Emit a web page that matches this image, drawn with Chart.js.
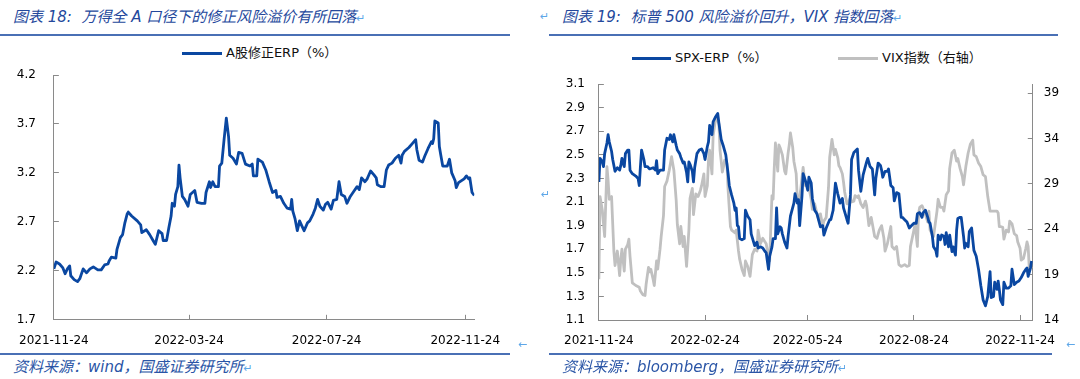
<!DOCTYPE html>
<html lang="zh-CN">
<head>
<meta charset="utf-8">
<script src="https://cdn.jsdelivr.net/npm/chart.js@4.4.0/dist/chart.umd.min.js"></script>
<style>
body{margin:0;width:1080px;height:379px;background:#fff;position:relative;overflow:hidden;font-family:"DejaVu Sans","Noto Sans CJK SC",sans-serif;}
.title{position:absolute;top:7px;font-size:15px;line-height:20px;font-style:italic;color:#24489c;white-space:pre;}
.rule{position:absolute;height:2px;background:#4a70b5;}
.source{position:absolute;top:357px;font-size:15px;line-height:20px;font-style:italic;color:#2a55a6;white-space:pre;}
.mark{position:absolute;font-size:11px;line-height:12px;color:#5ea7e8;}
.legend{position:absolute;display:flex;align-items:center;font-size:13px;line-height:16px;color:#111;white-space:pre;}
.legend i{display:inline-block;width:40px;height:3px;margin-right:4px;}
canvas{position:absolute;}
</style>
</head>
<body>

<div class="title" style="left:13px">图表 18:  万得全 A 口径下的修正风险溢价有所回落<span style="color:#5ea7e8;font-size:11px">↵</span></div>
<div class="title" style="left:562px">图表 19:  标普 500 风险溢价回升，VIX 指数回落<span style="color:#5ea7e8;font-size:11px">↵</span></div>
<div class="mark" style="left:540px;top:11px">↵</div>
<div class="rule" style="left:0;top:34px;width:510px"></div>
<div class="rule" style="left:549px;top:34px;width:509px"></div>

<div class="legend" style="left:182px;top:45px"><i style="background:#0a47a1"></i>A股修正ERP（%）</div>
<div class="legend" style="left:632px;top:50px"><i style="background:#0a47a1;width:39px"></i>SPX-ERP（%）</div>
<div class="legend" style="left:838px;top:50px"><i style="background:#c0c0c0"></i>VIX指数（右轴）</div>

<canvas id="erpChart" width="520" height="310" style="left:0;top:40px"></canvas>
<canvas id="spxChart" width="530" height="310" style="left:545px;top:40px"></canvas>

<div class="mark" style="left:541px;top:189px">↵</div>
<div class="mark" style="left:518px;top:339px">←</div>
<div class="mark" style="left:1066px;top:339px">←</div>
<div class="rule" style="left:0;top:353px;width:510px"></div>
<div class="rule" style="left:549px;top:353px;width:503px"></div>

<div class="source" style="left:13px">资料来源：wind，国盛证券研究所<span style="color:#5ea7e8;font-size:11px">↵</span></div>
<div class="source" style="left:562px">资料来源：bloomberg，国盛证券研究所<span style="color:#5ea7e8;font-size:11px">↵</span></div>

<script>
const startDate = "2021-11-24";

// 图表18：A股修正ERP，横轴为距 2021-11-24 的天数
const erpDays = [0,2,5,8,10,12,14,15,18,21,23,26,29,32,35,39,42,45,48,49,51,55,56,59,61,63,65,66,69,74,77,78,82,85,88,90,93,96,97,100,102,104,105,107,108,110,111,112,114,116,119,121,125,127,131,134,135,138,139,141,143,146,147,149,151,153,155,156,159,162,164,167,170,174,176,177,180,181,185,188,191,194,197,198,201,204,207,210,211,212,214,216,218,220,222,225,227,230,232,234,236,239,241,243,246,248,251,253,255,258,260,263,266,269,271,273,276,278,281,284,286,287,290,293,295,297,300,303,306,308,309,311,315,318,321,322,324,327,329,332,335,336,337,338,341,342,343,345,349,351,353,356,357,359,364,366,368,369,371,373];
const erpValues = [2.22,2.29,2.27,2.23,2.17,2.22,2.25,2.15,2.11,2.09,2.12,2.22,2.18,2.22,2.24,2.21,2.21,2.26,2.27,2.30,2.34,2.33,2.42,2.54,2.57,2.69,2.78,2.80,2.76,2.71,2.67,2.59,2.62,2.57,2.51,2.47,2.61,2.58,2.51,2.51,2.64,2.76,2.89,2.86,2.98,3.06,3.28,3.15,2.96,2.93,2.86,2.98,3.02,2.90,2.89,2.89,3.00,3.11,3.05,3.11,3.06,3.06,3.27,3.30,3.54,3.76,3.57,3.38,3.35,3.29,3.41,3.40,3.29,3.27,3.29,3.17,3.17,3.34,3.31,3.23,3.11,3.00,3.02,2.95,2.96,2.89,2.84,2.83,2.93,2.81,2.73,2.61,2.71,2.66,2.61,2.69,2.71,2.78,2.84,2.93,2.86,2.82,2.88,2.90,2.83,2.92,2.93,3.11,2.98,2.96,2.89,2.96,3.01,3.06,3.03,3.15,3.11,3.14,3.22,3.18,3.15,3.08,3.06,3.06,3.23,3.28,3.30,3.35,3.38,3.30,3.38,3.42,3.46,3.50,3.54,3.44,3.33,3.31,3.37,3.45,3.52,3.50,3.55,3.73,3.71,3.47,3.40,3.27,3.27,3.34,3.20,3.12,3.05,3.10,3.14,3.17,3.14,3.15,3.00,2.97];
const erpDateTicks = ["2021-11-24","2022-03-24","2022-07-24","2022-11-24"];
const erpYTicks = [1.7,2.2,2.7,3.2,3.7,4.2];

// 图表19：SPX-ERP 与 VIX
const spxDays = [0,1,3,4,5,7,8,9,11,12,14,16,18,19,20,22,23,25,26,27,29,32,34,35,36,37,39,40,42,44,47,49,50,51,53,56,57,59,61,62,64,65,67,68,70,71,73,74,76,77,78,79,81,82,83,85,87,89,91,92,94,95,96,98,99,101,103,104,106,108,110,112,113,115,117,118,119,120,121,122,124,126,127,129,131,132,135,137,138,140,142,144,145,147,148,150,151,153,154,155,157,158,159,161,163,164,166,169,170,172,173,174,176,177,179,181,182,184,185,187,189,192,194,195,197,200,201,203,205,207,209,211,212,215,216,218,219,221,224,225,227,229,232,233,235,237,239,240,242,244,245,246,248,250,251,253,255,256,258,260,262,263,265,267,269,271,273,275,276,278,280,281,283,285,286,287,289,290,292,293,294,296,297,299,300,301,303,304,306,307,309,310,311,313,314,316,317,318,320,321,323,324,325,327,329,331,333,335,337,339,340,342,343,345,346,347,348,350,351,353,355,357,358,360,362,364,366,368,370,371,372,374,375];
const spxErp = [2.27,2.47,2.44,2.40,2.51,2.60,2.67,2.61,2.53,2.46,2.36,2.39,2.37,2.41,2.47,2.40,2.51,2.54,2.54,2.37,2.34,2.32,2.30,2.24,2.40,2.54,2.46,2.40,2.40,2.38,2.39,2.37,2.45,2.34,2.37,2.37,2.54,2.64,2.63,2.67,2.61,2.67,2.58,2.54,2.51,2.48,2.43,2.44,2.35,2.27,2.44,2.42,2.36,2.27,2.39,2.51,2.54,2.55,2.51,2.46,2.57,2.61,2.75,2.67,2.78,2.82,2.85,2.77,2.63,2.57,2.50,2.34,2.24,2.16,2.09,2.03,2.05,1.90,1.89,1.79,1.78,1.79,2.03,1.98,1.95,1.83,1.73,1.76,1.71,1.72,1.71,1.68,1.67,1.53,1.64,1.72,1.79,1.79,2.05,1.83,1.89,1.88,1.83,1.76,1.71,1.81,1.98,2.09,2.17,2.09,2.12,1.90,2.15,2.34,2.28,2.20,2.31,2.26,2.13,2.03,2.00,1.89,1.90,1.82,1.88,1.95,1.95,2.03,2.26,2.17,2.09,2.13,2.05,1.95,1.92,2.16,2.46,2.52,2.55,2.37,2.19,2.33,2.44,2.47,2.40,2.38,2.16,2.30,2.43,2.41,2.37,2.31,2.36,2.36,2.38,2.24,2.22,2.11,2.18,2.17,1.97,1.97,1.95,1.93,1.88,1.90,1.92,1.92,2.00,2.01,1.97,2.01,2.03,1.97,1.93,1.92,1.81,1.72,1.69,1.64,1.82,1.78,1.82,1.81,1.74,1.84,1.72,1.82,1.68,1.72,1.65,1.86,1.96,1.97,1.97,1.81,1.71,1.75,1.72,1.85,1.88,1.78,1.69,1.64,1.53,1.39,1.27,1.22,1.30,1.51,1.29,1.30,1.42,1.36,1.43,1.36,1.27,1.23,1.42,1.37,1.37,1.39,1.53,1.40,1.42,1.43,1.46,1.50,1.53,1.54,1.47,1.54,1.60];
const vixDays = [0,1,3,5,7,8,9,11,13,14,16,18,19,20,22,23,25,26,27,29,32,35,36,38,40,41,43,44,45,47,48,50,51,53,54,56,57,59,61,63,65,67,68,70,71,73,74,76,78,79,81,82,84,86,88,89,91,92,94,95,96,98,99,101,102,104,105,107,108,109,111,112,114,115,117,118,119,121,122,124,126,127,129,131,133,135,137,138,140,142,144,145,147,148,149,150,151,152,153,155,156,157,159,161,162,164,165,166,168,169,171,172,174,175,177,178,179,181,182,184,185,187,189,191,192,194,195,197,199,200,202,204,205,207,208,209,211,212,213,215,216,218,219,221,222,224,225,227,229,231,232,234,236,237,239,241,243,245,247,248,250,251,253,254,256,258,260,262,265,267,269,270,273,274,276,277,278,280,282,285,286,287,290,293,294,296,298,299,301,303,304,306,308,310,311,313,315,316,318,320,322,324,325,327,329,331,333,335,337,339,342,345,346,347,348,350,351,353,355,356,358,360,362,363,365,366,368,370,371,372,373,375];
const vixValues = [18.5,27.6,26.1,23.2,30.9,29.4,27.3,27.6,21.6,20.0,21.6,18.9,20.7,21.8,19.4,21.8,22.3,22.9,21.0,18.1,17.8,17.6,17.2,16.8,16.7,18.0,19.8,19.3,19.6,18.5,17.8,20.5,19.6,21.8,23.2,25.5,28.7,29.3,30.5,32.0,30.5,27.2,24.5,22.4,24.3,22.1,23.2,19.9,23.9,27.4,28.5,25.6,27.9,27.6,28.3,28.8,30.1,27.6,28.8,31.6,32.7,30.1,34.3,36.0,36.3,35.6,32.7,30.3,30.9,31.6,31.2,28.3,24.3,23.9,23.7,23.6,23.9,21.6,20.7,19.6,18.9,20.5,19.9,18.8,21.2,21.8,21.6,23.9,22.4,23.0,22.6,22.4,21.0,20.5,24.3,27.7,27.3,30.8,33.5,30.4,33.3,33.0,32.2,30.4,30.1,32.4,33.3,34.6,33.0,31.5,30.1,27.2,27.5,28.5,30.8,29.7,28.8,29.0,28.6,27.3,26.2,26.8,25.7,24.9,25.7,24.3,24.9,25.3,28.6,31.9,33.9,32.2,32.8,31.9,31.0,30.8,30.1,29.2,28.1,26.8,26.8,27.5,27.0,27.1,27.7,27.5,27.7,26.8,26.4,27.1,26.6,24.4,25.3,24.6,23.2,23.0,23.9,24.4,23.0,21.6,22.4,23.0,24.3,22.1,21.8,22.1,20.1,19.9,20.1,19.9,20.0,22.1,23.9,24.6,22.1,25.7,26.4,26.6,26.0,24.8,26.0,23.9,23.2,26.0,27.3,26.4,26.4,26.0,27.8,28.2,30.7,32.4,32.7,31.5,31.8,30.7,29.8,28.9,30.9,32.4,33.4,33.8,32.2,32.0,31.3,30.9,30.0,29.8,27.6,26.0,26.0,26.0,25.8,24.3,24.3,24.2,22.9,23.9,23.7,24.9,24.6,23.5,23.3,22.6,21.9,20.6,20.8,21.9,22.6,22.1,19.6,19.9];
const spxDateTicks = ["2021-11-24","2022-02-24","2022-05-24","2022-08-24","2022-11-24"];
const spxYTicks = [1.1,1.3,1.5,1.7,1.9,2.1,2.3,2.5,2.7,2.9,3.1];
const vixYTicks = [14,19,24,29,34,39];

const blue = "#0a47a1";
const grey = "#c0c0c0";
const axisColor = "#8a8a8a";

Chart.defaults.font.family = '"DejaVu Sans","Noto Sans CJK SC",sans-serif';
Chart.defaults.font.size = 12;
Chart.defaults.color = "#000";

function dayOf(d){
return Math.round((Date.parse(d)-Date.parse(startDate))/86400000);
}

function points(days,vals){
return days.map((d,i)=>({x:d,y:vals[i]}));
}

function fixTicks(list){
return s=>{ s.ticks = list.map(v=>({value:v})); };
}

function dateAxis(dates,max,height){
return {
type:"linear",
min:0,
max:max,
afterBuildTicks:fixTicks(dates.map(dayOf)),
afterFit:s=>{ s.height = height; },
ticks:{
padding:19,
maxRotation:0,
autoSkip:false,
callback:v=>dates.find(d=>dayOf(d)===v)
},
grid:{drawOnChartArea:false,tickLength:-5,color:axisColor},
border:{color:axisColor}
};
}

function valueAxis(min,max,list,width,pad,digits,pos){
return {
position:pos,
min:min,
max:max,
afterBuildTicks:fixTicks(list),
afterFit:s=>{ s.width = width; },
ticks:{padding:pad,callback:v=>v.toFixed(digits)},
grid:{drawOnChartArea:false,tickLength:-5,color:axisColor},
border:{color:axisColor}
};
}

const lineStyle = {
borderWidth:2.8,
pointRadius:0,
tension:0,
fill:false,
borderJoinStyle:"round"
};

const common = {
responsive:false,
animation:false,
devicePixelRatio:1,
events:[],
plugins:{legend:{display:false},tooltip:{enabled:false}}
};

new Chart(
document.getElementById("erpChart"),
{
type:"line",
data:{
datasets:[{
label:"A股修正ERP（%）",
data:points(erpDays,erpValues),
borderColor:blue,
...lineStyle
}]
},
options:{
...common,
layout:{padding:{left:0,top:35,right:42,bottom:0}},
scales:{
x:dateAxis(erpDateTicks,373,29),
y:valueAxis(1.7,4.2,erpYTicks,52,23,1,"left")
}
}
}
);

new Chart(
document.getElementById("spxChart"),
{
type:"line",
data:{
datasets:[{
label:"SPX-ERP（%）",
data:points(spxDays,spxErp),
borderColor:blue,
yAxisID:"y",
...lineStyle
},{
label:"VIX指数（右轴）",
data:points(vixDays,vixValues),
borderColor:grey,
yAxisID:"y1",
...lineStyle
}]
},
options:{
...common,
layout:{padding:{left:0,top:44,right:0,bottom:0}},
scales:{
x:dateAxis(spxDateTicks,376,30),
y:valueAxis(1.1,3.1,spxYTicks,52,19,1,"left"),
y1:valueAxis(14,40,vixYTicks,38,16,0,"right")
}
}
}
);
</script>
</body>
</html>
